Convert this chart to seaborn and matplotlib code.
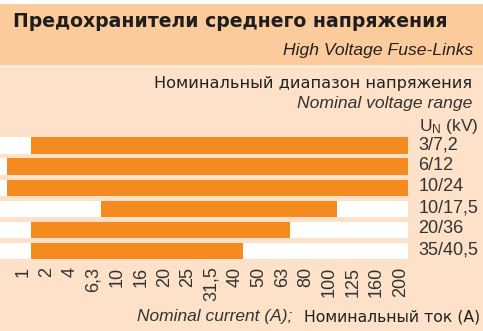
import matplotlib
matplotlib.use("Agg")
import matplotlib.pyplot as plt
from matplotlib.patches import Rectangle
from matplotlib.transforms import ScaledTranslation
import numpy as np
import pandas as pd
import seaborn as sns

# Rated currents (A), in the order they appear along the axis
currents = ["1", "2", "4", "6,3", "10", "16", "20", "25", "31,5", "40",
            "50", "63", "80", "100", "125", "160", "200"]
# Voltage classes (kV)
voltages = ["3/7,2", "6/12", "10/24", "10/17,5", "20/36", "35/40,5"]
# Current range available for each voltage class
min_current = ["2", "1", "1", "10", "2", "2"]
max_current = ["200", "200", "200", "100", "63", "40"]

title_ru = "Предохранители среднего напряжения"
title_en = "High Voltage Fuse-Links"
range_ru = "Номинальный диапазон напряжения"
range_en = "Nominal voltage range"
xlabel_en = "Nominal current (A);"
xlabel_ru = "Номинальный ток (А)"

ORANGE = "#F58B1F"
HEADER = "#FBCB9B"
BODY = "#FDE2C9"
STRIP = "#FEEBDA"
TEXT = "#333333"

sns.set_theme(style="white")
plt.rcParams["font.family"] = ["Liberation Sans", "DejaVu Sans"]

W, H = 483, 331
fig = plt.figure(figsize=(W / 100, H / 100), dpi=100, facecolor="white")


def fx(px):
    return px / W


def fy(py):
    return 1 - py / H


# page background bands
fig.patches.append(Rectangle((0, fy(H)), 1, fy(68) - fy(H), transform=fig.transFigure,
                             facecolor=BODY, edgecolor="none", zorder=-3))
fig.patches.append(Rectangle((0, fy(68)), 1, fy(65) - fy(68), transform=fig.transFigure,
                             facecolor=STRIP, edgecolor="none", zorder=-3))
fig.patches.append(Rectangle((0, fy(65)), 1, fy(4) - fy(65), transform=fig.transFigure,
                             facecolor=HEADER, edgecolor="none", zorder=-3))

# header texts
fig.text(fx(13), fy(27), title_ru, family=["DejaVu Sans"], weight="bold",
         fontsize=13.6, color="#1e1e1e", ha="left", va="baseline")
fig.text(fx(473), fy(55), title_en, style="italic", fontsize=12.6,
         color="#222222", ha="right", va="baseline")
fig.text(fx(472), fy(88), range_ru, family=["DejaVu Sans"], fontsize=11.6,
         color="#222222", ha="right", va="baseline")
fig.text(fx(472), fy(108), range_en, style="italic", fontsize=12.6,
         color=TEXT, ha="right", va="baseline")
fig.text(fx(419), fy(131), r"$\mathregular{U_N}$ (kV)", fontsize=12.5,
         color=TEXT, ha="left", va="baseline")
fig.text(fx(137), fy(321), xlabel_en, style="italic", fontsize=12.5,
         color=TEXT, ha="left", va="baseline")
fig.text(fx(304), fy(321), xlabel_ru, family=["DejaVu Sans"], fontsize=11.3,
         color="#222222", ha="left", va="baseline")

# chart area
ax_top, ax_bottom, ax_right = 135.0, 261.6, 408.0
ax = fig.add_axes([0, fy(ax_bottom), fx(ax_right), (ax_bottom - ax_top) / H])
ax.set_facecolor("none")

idx = {c: i for i, c in enumerate(currents)}
start = np.array([idx[c] for c in min_current], dtype=float)
stop = np.array([idx[c] for c in max_current], dtype=float)
x_lo, x_hi = -0.5 - 7 / 23.59, len(currents) - 0.5

bands = pd.DataFrame({"voltage": voltages, "span": x_hi - x_lo})
ranges = pd.DataFrame({"voltage": voltages, "span": stop - start + 1})

sns.barplot(data=bands, x="span", y="voltage", left=np.full(len(voltages), x_lo),
            color="white", saturation=1, width=0.78, linewidth=0, ax=ax)
sns.barplot(data=ranges, x="span", y="voltage", left=start - 0.5,
            color=ORANGE, saturation=1, width=0.78, linewidth=0, ax=ax)

ax.set_xlim(x_lo, x_hi)
ax.set_ylim(len(voltages) - 0.5, -0.5)
ax.set_xlabel("")
ax.set_ylabel("")
for s in ax.spines.values():
    s.set_visible(False)

ax.set_xticks(range(len(currents)))
ax.set_xticklabels(currents, rotation=90)
ax.yaxis.tick_right()
ax.tick_params(axis="x", length=0, pad=3.6, labelsize=13, labelcolor=TEXT)
ax.tick_params(axis="y", length=0, pad=7.5, labelsize=13, labelcolor=TEXT)

for lbl in ax.get_xticklabels():
    lbl.set_transform(lbl.get_transform() + ScaledTranslation(0.04, 0, fig.dpi_scale_trans))
for lbl in ax.get_yticklabels():
    lbl.set_transform(lbl.get_transform() + ScaledTranslation(0, 0.03, fig.dpi_scale_trans))

fig.savefig("out.png", dpi=100, facecolor="white")
